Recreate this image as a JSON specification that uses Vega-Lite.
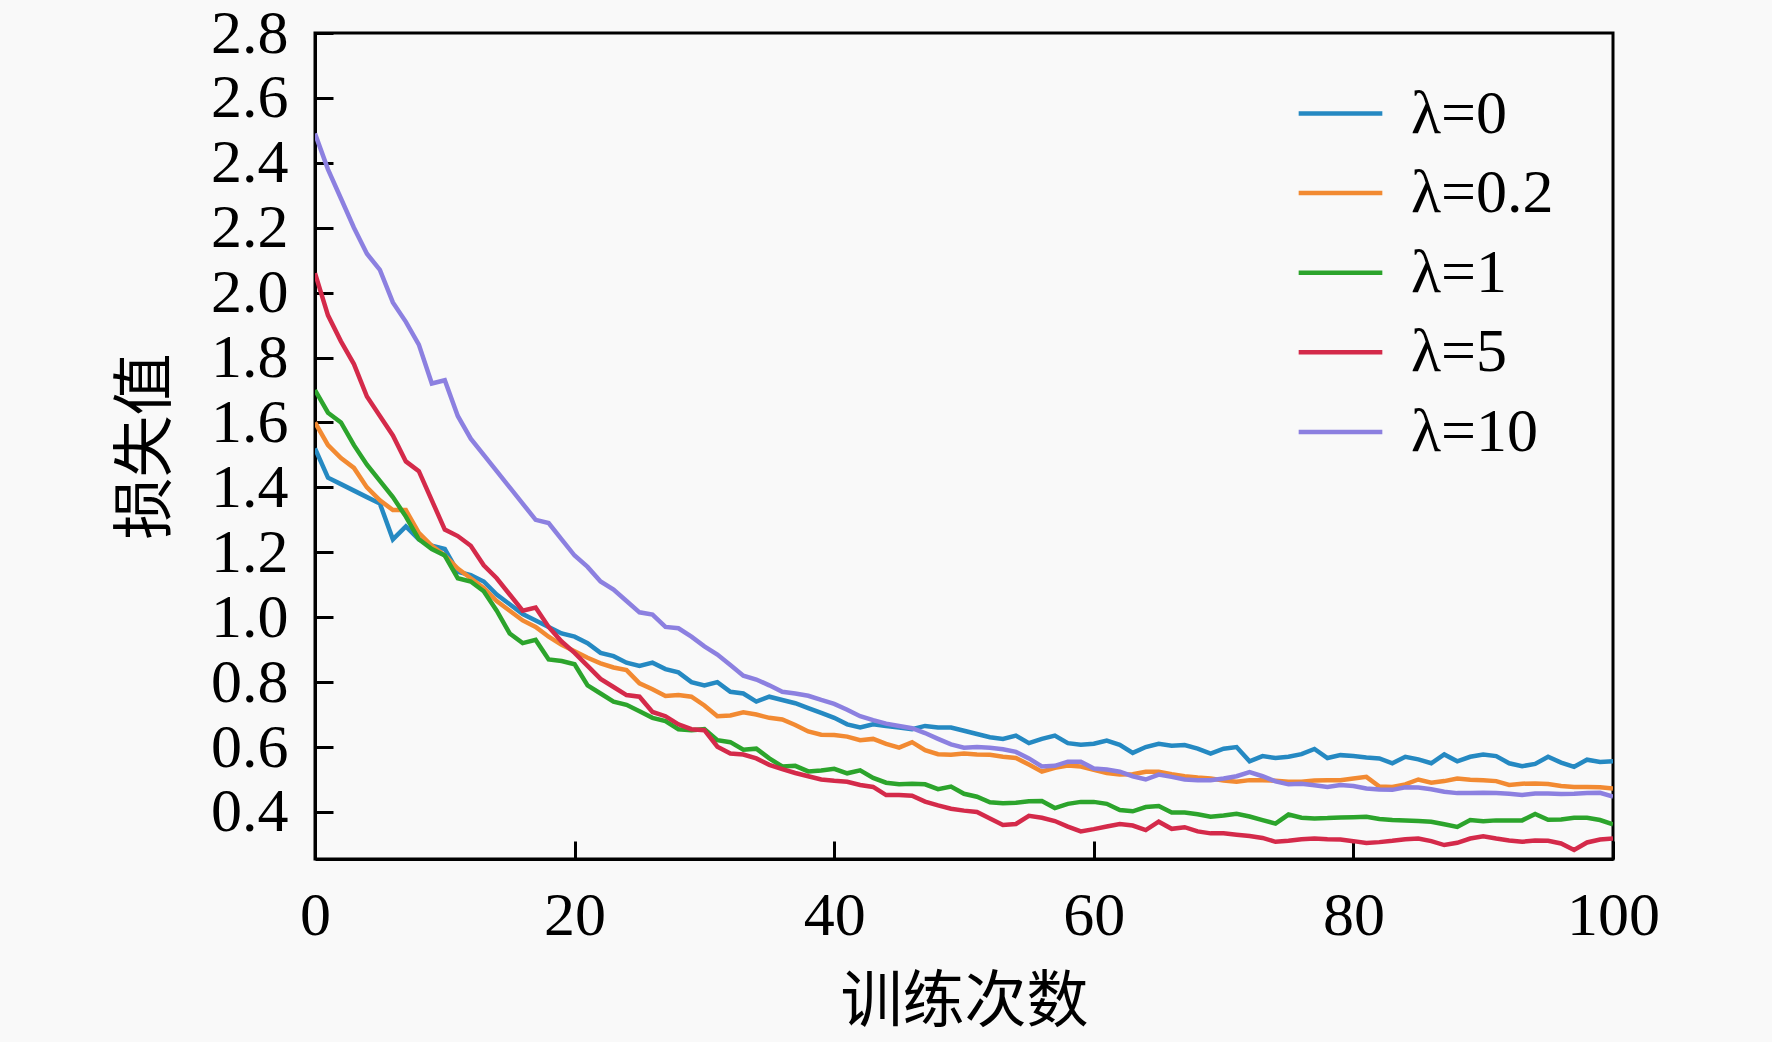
{
  "$schema": "https://vega.github.io/schema/vega-lite/v6.json",
  "width": 1298,
  "height": 826,
  "autosize": {"type": "none"},
  "padding": {"left": 315, "top": 33, "right": 159, "bottom": 183},
  "background": "#f9f9f9",
  "data": {"values": [
    {"epoch":0,"lambda":"λ=0","loss":1.52},{"epoch":1,"lambda":"λ=0","loss":1.43},{"epoch":2,"lambda":"λ=0","loss":1.41},{"epoch":3,"lambda":"λ=0","loss":1.39},{"epoch":4,"lambda":"λ=0","loss":1.37},
    {"epoch":5,"lambda":"λ=0","loss":1.35},{"epoch":6,"lambda":"λ=0","loss":1.24},{"epoch":7,"lambda":"λ=0","loss":1.28},{"epoch":8,"lambda":"λ=0","loss":1.24},{"epoch":9,"lambda":"λ=0","loss":1.22},
    {"epoch":10,"lambda":"λ=0","loss":1.21},{"epoch":11,"lambda":"λ=0","loss":1.14},{"epoch":12,"lambda":"λ=0","loss":1.13},{"epoch":13,"lambda":"λ=0","loss":1.11},{"epoch":14,"lambda":"λ=0","loss":1.07},
    {"epoch":15,"lambda":"λ=0","loss":1.04},{"epoch":16,"lambda":"λ=0","loss":1.01},{"epoch":17,"lambda":"λ=0","loss":0.99},{"epoch":18,"lambda":"λ=0","loss":0.97},{"epoch":19,"lambda":"λ=0","loss":0.95},
    {"epoch":20,"lambda":"λ=0","loss":0.94},{"epoch":21,"lambda":"λ=0","loss":0.92},{"epoch":22,"lambda":"λ=0","loss":0.89},{"epoch":23,"lambda":"λ=0","loss":0.88},{"epoch":24,"lambda":"λ=0","loss":0.86},
    {"epoch":25,"lambda":"λ=0","loss":0.85},{"epoch":26,"lambda":"λ=0","loss":0.86},{"epoch":27,"lambda":"λ=0","loss":0.84},{"epoch":28,"lambda":"λ=0","loss":0.83},{"epoch":29,"lambda":"λ=0","loss":0.80},
    {"epoch":30,"lambda":"λ=0","loss":0.79},{"epoch":31,"lambda":"λ=0","loss":0.80},{"epoch":32,"lambda":"λ=0","loss":0.77},{"epoch":33,"lambda":"λ=0","loss":0.765},{"epoch":34,"lambda":"λ=0","loss":0.74},
    {"epoch":35,"lambda":"λ=0","loss":0.755},{"epoch":36,"lambda":"λ=0","loss":0.745},{"epoch":37,"lambda":"λ=0","loss":0.735},{"epoch":38,"lambda":"λ=0","loss":0.72},{"epoch":39,"lambda":"λ=0","loss":0.705},
    {"epoch":40,"lambda":"λ=0","loss":0.69},{"epoch":41,"lambda":"λ=0","loss":0.67},{"epoch":42,"lambda":"λ=0","loss":0.66},{"epoch":43,"lambda":"λ=0","loss":0.67},{"epoch":44,"lambda":"λ=0","loss":0.665},
    {"epoch":45,"lambda":"λ=0","loss":0.66},{"epoch":46,"lambda":"λ=0","loss":0.655},{"epoch":47,"lambda":"λ=0","loss":0.665},{"epoch":48,"lambda":"λ=0","loss":0.66},{"epoch":49,"lambda":"λ=0","loss":0.66},
    {"epoch":50,"lambda":"λ=0","loss":0.65},{"epoch":51,"lambda":"λ=0","loss":0.64},{"epoch":52,"lambda":"λ=0","loss":0.63},{"epoch":53,"lambda":"λ=0","loss":0.625},{"epoch":54,"lambda":"λ=0","loss":0.635},
    {"epoch":55,"lambda":"λ=0","loss":0.612},{"epoch":56,"lambda":"λ=0","loss":0.625},{"epoch":57,"lambda":"λ=0","loss":0.635},{"epoch":58,"lambda":"λ=0","loss":0.612},{"epoch":59,"lambda":"λ=0","loss":0.607},
    {"epoch":60,"lambda":"λ=0","loss":0.61},{"epoch":61,"lambda":"λ=0","loss":0.62},{"epoch":62,"lambda":"λ=0","loss":0.607},{"epoch":63,"lambda":"λ=0","loss":0.582},{"epoch":64,"lambda":"λ=0","loss":0.60},
    {"epoch":65,"lambda":"λ=0","loss":0.61},{"epoch":66,"lambda":"λ=0","loss":0.604},{"epoch":67,"lambda":"λ=0","loss":0.606},{"epoch":68,"lambda":"λ=0","loss":0.595},{"epoch":69,"lambda":"λ=0","loss":0.58},
    {"epoch":70,"lambda":"λ=0","loss":0.595},{"epoch":71,"lambda":"λ=0","loss":0.60},{"epoch":72,"lambda":"λ=0","loss":0.556},{"epoch":73,"lambda":"λ=0","loss":0.572},{"epoch":74,"lambda":"λ=0","loss":0.566},
    {"epoch":75,"lambda":"λ=0","loss":0.57},{"epoch":76,"lambda":"λ=0","loss":0.578},{"epoch":77,"lambda":"λ=0","loss":0.594},{"epoch":78,"lambda":"λ=0","loss":0.566},{"epoch":79,"lambda":"λ=0","loss":0.575},
    {"epoch":80,"lambda":"λ=0","loss":0.572},{"epoch":81,"lambda":"λ=0","loss":0.568},{"epoch":82,"lambda":"λ=0","loss":0.565},{"epoch":83,"lambda":"λ=0","loss":0.55},{"epoch":84,"lambda":"λ=0","loss":0.57},
    {"epoch":85,"lambda":"λ=0","loss":0.562},{"epoch":86,"lambda":"λ=0","loss":0.55},{"epoch":87,"lambda":"λ=0","loss":0.577},{"epoch":88,"lambda":"λ=0","loss":0.556},{"epoch":89,"lambda":"λ=0","loss":0.57},
    {"epoch":90,"lambda":"λ=0","loss":0.577},{"epoch":91,"lambda":"λ=0","loss":0.572},{"epoch":92,"lambda":"λ=0","loss":0.55},{"epoch":93,"lambda":"λ=0","loss":0.541},{"epoch":94,"lambda":"λ=0","loss":0.548},
    {"epoch":95,"lambda":"λ=0","loss":0.57},{"epoch":96,"lambda":"λ=0","loss":0.552},{"epoch":97,"lambda":"λ=0","loss":0.539},{"epoch":98,"lambda":"λ=0","loss":0.561},{"epoch":99,"lambda":"λ=0","loss":0.554},
    {"epoch":100,"lambda":"λ=0","loss":0.556},

    {"epoch":0,"lambda":"λ=0.2","loss":1.60},{"epoch":1,"lambda":"λ=0.2","loss":1.53},{"epoch":2,"lambda":"λ=0.2","loss":1.49},{"epoch":3,"lambda":"λ=0.2","loss":1.46},{"epoch":4,"lambda":"λ=0.2","loss":1.40},
    {"epoch":5,"lambda":"λ=0.2","loss":1.36},{"epoch":6,"lambda":"λ=0.2","loss":1.33},{"epoch":7,"lambda":"λ=0.2","loss":1.33},{"epoch":8,"lambda":"λ=0.2","loss":1.26},{"epoch":9,"lambda":"λ=0.2","loss":1.22},
    {"epoch":10,"lambda":"λ=0.2","loss":1.19},{"epoch":11,"lambda":"λ=0.2","loss":1.15},{"epoch":12,"lambda":"λ=0.2","loss":1.12},{"epoch":13,"lambda":"λ=0.2","loss":1.09},{"epoch":14,"lambda":"λ=0.2","loss":1.05},
    {"epoch":15,"lambda":"λ=0.2","loss":1.02},{"epoch":16,"lambda":"λ=0.2","loss":0.99},{"epoch":17,"lambda":"λ=0.2","loss":0.97},{"epoch":18,"lambda":"λ=0.2","loss":0.94},{"epoch":19,"lambda":"λ=0.2","loss":0.915},
    {"epoch":20,"lambda":"λ=0.2","loss":0.895},{"epoch":21,"lambda":"λ=0.2","loss":0.875},{"epoch":22,"lambda":"λ=0.2","loss":0.858},{"epoch":23,"lambda":"λ=0.2","loss":0.845},{"epoch":24,"lambda":"λ=0.2","loss":0.837},
    {"epoch":25,"lambda":"λ=0.2","loss":0.796},{"epoch":26,"lambda":"λ=0.2","loss":0.778},{"epoch":27,"lambda":"λ=0.2","loss":0.757},{"epoch":28,"lambda":"λ=0.2","loss":0.76},{"epoch":29,"lambda":"λ=0.2","loss":0.755},
    {"epoch":30,"lambda":"λ=0.2","loss":0.728},{"epoch":31,"lambda":"λ=0.2","loss":0.695},{"epoch":32,"lambda":"λ=0.2","loss":0.697},{"epoch":33,"lambda":"λ=0.2","loss":0.707},{"epoch":34,"lambda":"λ=0.2","loss":0.70},
    {"epoch":35,"lambda":"λ=0.2","loss":0.69},{"epoch":36,"lambda":"λ=0.2","loss":0.685},{"epoch":37,"lambda":"λ=0.2","loss":0.668},{"epoch":38,"lambda":"λ=0.2","loss":0.648},{"epoch":39,"lambda":"λ=0.2","loss":0.638},
    {"epoch":40,"lambda":"λ=0.2","loss":0.637},{"epoch":41,"lambda":"λ=0.2","loss":0.632},{"epoch":42,"lambda":"λ=0.2","loss":0.621},{"epoch":43,"lambda":"λ=0.2","loss":0.625},{"epoch":44,"lambda":"λ=0.2","loss":0.61},
    {"epoch":45,"lambda":"λ=0.2","loss":0.598},{"epoch":46,"lambda":"λ=0.2","loss":0.615},{"epoch":47,"lambda":"λ=0.2","loss":0.59},{"epoch":48,"lambda":"λ=0.2","loss":0.578},{"epoch":49,"lambda":"λ=0.2","loss":0.576},
    {"epoch":50,"lambda":"λ=0.2","loss":0.58},{"epoch":51,"lambda":"λ=0.2","loss":0.577},{"epoch":52,"lambda":"λ=0.2","loss":0.576},{"epoch":53,"lambda":"λ=0.2","loss":0.57},{"epoch":54,"lambda":"λ=0.2","loss":0.566},
    {"epoch":55,"lambda":"λ=0.2","loss":0.546},{"epoch":56,"lambda":"λ=0.2","loss":0.524},{"epoch":57,"lambda":"λ=0.2","loss":0.536},{"epoch":58,"lambda":"λ=0.2","loss":0.543},{"epoch":59,"lambda":"λ=0.2","loss":0.54},
    {"epoch":60,"lambda":"λ=0.2","loss":0.53},{"epoch":61,"lambda":"λ=0.2","loss":0.52},{"epoch":62,"lambda":"λ=0.2","loss":0.515},{"epoch":63,"lambda":"λ=0.2","loss":0.516},{"epoch":64,"lambda":"λ=0.2","loss":0.524},
    {"epoch":65,"lambda":"λ=0.2","loss":0.524},{"epoch":66,"lambda":"λ=0.2","loss":0.516},{"epoch":67,"lambda":"λ=0.2","loss":0.51},{"epoch":68,"lambda":"λ=0.2","loss":0.506},{"epoch":69,"lambda":"λ=0.2","loss":0.503},
    {"epoch":70,"lambda":"λ=0.2","loss":0.497},{"epoch":71,"lambda":"λ=0.2","loss":0.493},{"epoch":72,"lambda":"λ=0.2","loss":0.498},{"epoch":73,"lambda":"λ=0.2","loss":0.498},{"epoch":74,"lambda":"λ=0.2","loss":0.496},
    {"epoch":75,"lambda":"λ=0.2","loss":0.493},{"epoch":76,"lambda":"λ=0.2","loss":0.493},{"epoch":77,"lambda":"λ=0.2","loss":0.497},{"epoch":78,"lambda":"λ=0.2","loss":0.498},{"epoch":79,"lambda":"λ=0.2","loss":0.498},
    {"epoch":80,"lambda":"λ=0.2","loss":0.503},{"epoch":81,"lambda":"λ=0.2","loss":0.508},{"epoch":82,"lambda":"λ=0.2","loss":0.478},{"epoch":83,"lambda":"λ=0.2","loss":0.477},{"epoch":84,"lambda":"λ=0.2","loss":0.485},
    {"epoch":85,"lambda":"λ=0.2","loss":0.50},{"epoch":86,"lambda":"λ=0.2","loss":0.49},{"epoch":87,"lambda":"λ=0.2","loss":0.495},{"epoch":88,"lambda":"λ=0.2","loss":0.503},{"epoch":89,"lambda":"λ=0.2","loss":0.499},
    {"epoch":90,"lambda":"λ=0.2","loss":0.498},{"epoch":91,"lambda":"λ=0.2","loss":0.495},{"epoch":92,"lambda":"λ=0.2","loss":0.483},{"epoch":93,"lambda":"λ=0.2","loss":0.487},{"epoch":94,"lambda":"λ=0.2","loss":0.488},
    {"epoch":95,"lambda":"λ=0.2","loss":0.486},{"epoch":96,"lambda":"λ=0.2","loss":0.48},{"epoch":97,"lambda":"λ=0.2","loss":0.477},{"epoch":98,"lambda":"λ=0.2","loss":0.477},{"epoch":99,"lambda":"λ=0.2","loss":0.476},
    {"epoch":100,"lambda":"λ=0.2","loss":0.472},

    {"epoch":0,"lambda":"λ=1","loss":1.70},{"epoch":1,"lambda":"λ=1","loss":1.63},{"epoch":2,"lambda":"λ=1","loss":1.60},{"epoch":3,"lambda":"λ=1","loss":1.53},{"epoch":4,"lambda":"λ=1","loss":1.47},
    {"epoch":5,"lambda":"λ=1","loss":1.42},{"epoch":6,"lambda":"λ=1","loss":1.37},{"epoch":7,"lambda":"λ=1","loss":1.31},{"epoch":8,"lambda":"λ=1","loss":1.24},{"epoch":9,"lambda":"λ=1","loss":1.21},
    {"epoch":10,"lambda":"λ=1","loss":1.19},{"epoch":11,"lambda":"λ=1","loss":1.12},{"epoch":12,"lambda":"λ=1","loss":1.11},{"epoch":13,"lambda":"λ=1","loss":1.08},{"epoch":14,"lambda":"λ=1","loss":1.02},
    {"epoch":15,"lambda":"λ=1","loss":0.95},{"epoch":16,"lambda":"λ=1","loss":0.92},{"epoch":17,"lambda":"λ=1","loss":0.93},{"epoch":18,"lambda":"λ=1","loss":0.87},{"epoch":19,"lambda":"λ=1","loss":0.865},
    {"epoch":20,"lambda":"λ=1","loss":0.855},{"epoch":21,"lambda":"λ=1","loss":0.79},{"epoch":22,"lambda":"λ=1","loss":0.765},{"epoch":23,"lambda":"λ=1","loss":0.74},{"epoch":24,"lambda":"λ=1","loss":0.73},
    {"epoch":25,"lambda":"λ=1","loss":0.71},{"epoch":26,"lambda":"λ=1","loss":0.69},{"epoch":27,"lambda":"λ=1","loss":0.68},{"epoch":28,"lambda":"λ=1","loss":0.655},{"epoch":29,"lambda":"λ=1","loss":0.652},
    {"epoch":30,"lambda":"λ=1","loss":0.655},{"epoch":31,"lambda":"λ=1","loss":0.621},{"epoch":32,"lambda":"λ=1","loss":0.615},{"epoch":33,"lambda":"λ=1","loss":0.592},{"epoch":34,"lambda":"λ=1","loss":0.595},
    {"epoch":35,"lambda":"λ=1","loss":0.565},{"epoch":36,"lambda":"λ=1","loss":0.54},{"epoch":37,"lambda":"λ=1","loss":0.542},{"epoch":38,"lambda":"λ=1","loss":0.525},{"epoch":39,"lambda":"λ=1","loss":0.528},
    {"epoch":40,"lambda":"λ=1","loss":0.533},{"epoch":41,"lambda":"λ=1","loss":0.519},{"epoch":42,"lambda":"λ=1","loss":0.528},{"epoch":43,"lambda":"λ=1","loss":0.505},{"epoch":44,"lambda":"λ=1","loss":0.49},
    {"epoch":45,"lambda":"λ=1","loss":0.485},{"epoch":46,"lambda":"λ=1","loss":0.487},{"epoch":47,"lambda":"λ=1","loss":0.485},{"epoch":48,"lambda":"λ=1","loss":0.47},{"epoch":49,"lambda":"λ=1","loss":0.478},
    {"epoch":50,"lambda":"λ=1","loss":0.456},{"epoch":51,"lambda":"λ=1","loss":0.447},{"epoch":52,"lambda":"λ=1","loss":0.43},{"epoch":53,"lambda":"λ=1","loss":0.427},{"epoch":54,"lambda":"λ=1","loss":0.428},
    {"epoch":55,"lambda":"λ=1","loss":0.433},{"epoch":56,"lambda":"λ=1","loss":0.434},{"epoch":57,"lambda":"λ=1","loss":0.412},{"epoch":58,"lambda":"λ=1","loss":0.425},{"epoch":59,"lambda":"λ=1","loss":0.431},
    {"epoch":60,"lambda":"λ=1","loss":0.431},{"epoch":61,"lambda":"λ=1","loss":0.425},{"epoch":62,"lambda":"λ=1","loss":0.406},{"epoch":63,"lambda":"λ=1","loss":0.402},{"epoch":64,"lambda":"λ=1","loss":0.415},
    {"epoch":65,"lambda":"λ=1","loss":0.418},{"epoch":66,"lambda":"λ=1","loss":0.398},{"epoch":67,"lambda":"λ=1","loss":0.398},{"epoch":68,"lambda":"λ=1","loss":0.393},{"epoch":69,"lambda":"λ=1","loss":0.385},
    {"epoch":70,"lambda":"λ=1","loss":0.389},{"epoch":71,"lambda":"λ=1","loss":0.394},{"epoch":72,"lambda":"λ=1","loss":0.386},{"epoch":73,"lambda":"λ=1","loss":0.375},{"epoch":74,"lambda":"λ=1","loss":0.364},
    {"epoch":75,"lambda":"λ=1","loss":0.392},{"epoch":76,"lambda":"λ=1","loss":0.382},{"epoch":77,"lambda":"λ=1","loss":0.38},{"epoch":78,"lambda":"λ=1","loss":0.381},{"epoch":79,"lambda":"λ=1","loss":0.383},
    {"epoch":80,"lambda":"λ=1","loss":0.384},{"epoch":81,"lambda":"λ=1","loss":0.385},{"epoch":82,"lambda":"λ=1","loss":0.378},{"epoch":83,"lambda":"λ=1","loss":0.375},{"epoch":84,"lambda":"λ=1","loss":0.374},
    {"epoch":85,"lambda":"λ=1","loss":0.372},{"epoch":86,"lambda":"λ=1","loss":0.37},{"epoch":87,"lambda":"λ=1","loss":0.362},{"epoch":88,"lambda":"λ=1","loss":0.354},{"epoch":89,"lambda":"λ=1","loss":0.375},
    {"epoch":90,"lambda":"λ=1","loss":0.371},{"epoch":91,"lambda":"λ=1","loss":0.374},{"epoch":92,"lambda":"λ=1","loss":0.374},{"epoch":93,"lambda":"λ=1","loss":0.374},{"epoch":94,"lambda":"λ=1","loss":0.394},
    {"epoch":95,"lambda":"λ=1","loss":0.376},{"epoch":96,"lambda":"λ=1","loss":0.377},{"epoch":97,"lambda":"λ=1","loss":0.382},{"epoch":98,"lambda":"λ=1","loss":0.382},{"epoch":99,"lambda":"λ=1","loss":0.375},
    {"epoch":100,"lambda":"λ=1","loss":0.362},

    {"epoch":0,"lambda":"λ=5","loss":2.06},{"epoch":1,"lambda":"λ=5","loss":1.93},{"epoch":2,"lambda":"λ=5","loss":1.85},{"epoch":3,"lambda":"λ=5","loss":1.78},{"epoch":4,"lambda":"λ=5","loss":1.68},
    {"epoch":5,"lambda":"λ=5","loss":1.62},{"epoch":6,"lambda":"λ=5","loss":1.56},{"epoch":7,"lambda":"λ=5","loss":1.48},{"epoch":8,"lambda":"λ=5","loss":1.45},{"epoch":9,"lambda":"λ=5","loss":1.36},
    {"epoch":10,"lambda":"λ=5","loss":1.27},{"epoch":11,"lambda":"λ=5","loss":1.25},{"epoch":12,"lambda":"λ=5","loss":1.22},{"epoch":13,"lambda":"λ=5","loss":1.16},{"epoch":14,"lambda":"λ=5","loss":1.12},
    {"epoch":15,"lambda":"λ=5","loss":1.07},{"epoch":16,"lambda":"λ=5","loss":1.02},{"epoch":17,"lambda":"λ=5","loss":1.03},{"epoch":18,"lambda":"λ=5","loss":0.97},{"epoch":19,"lambda":"λ=5","loss":0.925},
    {"epoch":20,"lambda":"λ=5","loss":0.89},{"epoch":21,"lambda":"λ=5","loss":0.85},{"epoch":22,"lambda":"λ=5","loss":0.81},{"epoch":23,"lambda":"λ=5","loss":0.785},{"epoch":24,"lambda":"λ=5","loss":0.76},
    {"epoch":25,"lambda":"λ=5","loss":0.755},{"epoch":26,"lambda":"λ=5","loss":0.708},{"epoch":27,"lambda":"λ=5","loss":0.695},{"epoch":28,"lambda":"λ=5","loss":0.67},{"epoch":29,"lambda":"λ=5","loss":0.655},
    {"epoch":30,"lambda":"λ=5","loss":0.652},{"epoch":31,"lambda":"λ=5","loss":0.601},{"epoch":32,"lambda":"λ=5","loss":0.58},{"epoch":33,"lambda":"λ=5","loss":0.577},{"epoch":34,"lambda":"λ=5","loss":0.565},
    {"epoch":35,"lambda":"λ=5","loss":0.545},{"epoch":36,"lambda":"λ=5","loss":0.532},{"epoch":37,"lambda":"λ=5","loss":0.52},{"epoch":38,"lambda":"λ=5","loss":0.51},{"epoch":39,"lambda":"λ=5","loss":0.50},
    {"epoch":40,"lambda":"λ=5","loss":0.496},{"epoch":41,"lambda":"λ=5","loss":0.493},{"epoch":42,"lambda":"λ=5","loss":0.483},{"epoch":43,"lambda":"λ=5","loss":0.477},{"epoch":44,"lambda":"λ=5","loss":0.452},
    {"epoch":45,"lambda":"λ=5","loss":0.452},{"epoch":46,"lambda":"λ=5","loss":0.45},{"epoch":47,"lambda":"λ=5","loss":0.432},{"epoch":48,"lambda":"λ=5","loss":0.42},{"epoch":49,"lambda":"λ=5","loss":0.41},
    {"epoch":50,"lambda":"λ=5","loss":0.404},{"epoch":51,"lambda":"λ=5","loss":0.40},{"epoch":52,"lambda":"λ=5","loss":0.38},{"epoch":53,"lambda":"λ=5","loss":0.36},{"epoch":54,"lambda":"λ=5","loss":0.363},
    {"epoch":55,"lambda":"λ=5","loss":0.388},{"epoch":56,"lambda":"λ=5","loss":0.382},{"epoch":57,"lambda":"λ=5","loss":0.372},{"epoch":58,"lambda":"λ=5","loss":0.355},{"epoch":59,"lambda":"λ=5","loss":0.34},
    {"epoch":60,"lambda":"λ=5","loss":0.347},{"epoch":61,"lambda":"λ=5","loss":0.355},{"epoch":62,"lambda":"λ=5","loss":0.363},{"epoch":63,"lambda":"λ=5","loss":0.358},{"epoch":64,"lambda":"λ=5","loss":0.344},
    {"epoch":65,"lambda":"λ=5","loss":0.37},{"epoch":66,"lambda":"λ=5","loss":0.348},{"epoch":67,"lambda":"λ=5","loss":0.353},{"epoch":68,"lambda":"λ=5","loss":0.34},{"epoch":69,"lambda":"λ=5","loss":0.334},
    {"epoch":70,"lambda":"λ=5","loss":0.334},{"epoch":71,"lambda":"λ=5","loss":0.33},{"epoch":72,"lambda":"λ=5","loss":0.326},{"epoch":73,"lambda":"λ=5","loss":0.32},{"epoch":74,"lambda":"λ=5","loss":0.308},
    {"epoch":75,"lambda":"λ=5","loss":0.311},{"epoch":76,"lambda":"λ=5","loss":0.316},{"epoch":77,"lambda":"λ=5","loss":0.318},{"epoch":78,"lambda":"λ=5","loss":0.316},{"epoch":79,"lambda":"λ=5","loss":0.315},
    {"epoch":80,"lambda":"λ=5","loss":0.31},{"epoch":81,"lambda":"λ=5","loss":0.304},{"epoch":82,"lambda":"λ=5","loss":0.307},{"epoch":83,"lambda":"λ=5","loss":0.311},{"epoch":84,"lambda":"λ=5","loss":0.316},
    {"epoch":85,"lambda":"λ=5","loss":0.318},{"epoch":86,"lambda":"λ=5","loss":0.31},{"epoch":87,"lambda":"λ=5","loss":0.298},{"epoch":88,"lambda":"λ=5","loss":0.305},{"epoch":89,"lambda":"λ=5","loss":0.318},
    {"epoch":90,"lambda":"λ=5","loss":0.325},{"epoch":91,"lambda":"λ=5","loss":0.318},{"epoch":92,"lambda":"λ=5","loss":0.312},{"epoch":93,"lambda":"λ=5","loss":0.308},{"epoch":94,"lambda":"λ=5","loss":0.312},
    {"epoch":95,"lambda":"λ=5","loss":0.311},{"epoch":96,"lambda":"λ=5","loss":0.303},{"epoch":97,"lambda":"λ=5","loss":0.283},{"epoch":98,"lambda":"λ=5","loss":0.306},{"epoch":99,"lambda":"λ=5","loss":0.315},
    {"epoch":100,"lambda":"λ=5","loss":0.318},

    {"epoch":0,"lambda":"λ=10","loss":2.49},{"epoch":1,"lambda":"λ=10","loss":2.38},{"epoch":2,"lambda":"λ=10","loss":2.29},{"epoch":3,"lambda":"λ=10","loss":2.20},{"epoch":4,"lambda":"λ=10","loss":2.12},
    {"epoch":5,"lambda":"λ=10","loss":2.07},{"epoch":6,"lambda":"λ=10","loss":1.97},{"epoch":7,"lambda":"λ=10","loss":1.91},{"epoch":8,"lambda":"λ=10","loss":1.84},{"epoch":9,"lambda":"λ=10","loss":1.72},
    {"epoch":10,"lambda":"λ=10","loss":1.73},{"epoch":11,"lambda":"λ=10","loss":1.62},{"epoch":12,"lambda":"λ=10","loss":1.55},{"epoch":13,"lambda":"λ=10","loss":1.50},{"epoch":14,"lambda":"λ=10","loss":1.45},
    {"epoch":15,"lambda":"λ=10","loss":1.40},{"epoch":16,"lambda":"λ=10","loss":1.35},{"epoch":17,"lambda":"λ=10","loss":1.30},{"epoch":18,"lambda":"λ=10","loss":1.29},{"epoch":19,"lambda":"λ=10","loss":1.24},
    {"epoch":20,"lambda":"λ=10","loss":1.19},{"epoch":21,"lambda":"λ=10","loss":1.155},{"epoch":22,"lambda":"λ=10","loss":1.11},{"epoch":23,"lambda":"λ=10","loss":1.085},{"epoch":24,"lambda":"λ=10","loss":1.05},
    {"epoch":25,"lambda":"λ=10","loss":1.015},{"epoch":26,"lambda":"λ=10","loss":1.008},{"epoch":27,"lambda":"λ=10","loss":0.97},{"epoch":28,"lambda":"λ=10","loss":0.966},{"epoch":29,"lambda":"λ=10","loss":0.94},
    {"epoch":30,"lambda":"λ=10","loss":0.91},{"epoch":31,"lambda":"λ=10","loss":0.885},{"epoch":32,"lambda":"λ=10","loss":0.853},{"epoch":33,"lambda":"λ=10","loss":0.82},{"epoch":34,"lambda":"λ=10","loss":0.808},
    {"epoch":35,"lambda":"λ=10","loss":0.79},{"epoch":36,"lambda":"λ=10","loss":0.77},{"epoch":37,"lambda":"λ=10","loss":0.765},{"epoch":38,"lambda":"λ=10","loss":0.758},{"epoch":39,"lambda":"λ=10","loss":0.745},
    {"epoch":40,"lambda":"λ=10","loss":0.733},{"epoch":41,"lambda":"λ=10","loss":0.715},{"epoch":42,"lambda":"λ=10","loss":0.695},{"epoch":43,"lambda":"λ=10","loss":0.683},{"epoch":44,"lambda":"λ=10","loss":0.672},
    {"epoch":45,"lambda":"λ=10","loss":0.665},{"epoch":46,"lambda":"λ=10","loss":0.658},{"epoch":47,"lambda":"λ=10","loss":0.643},{"epoch":48,"lambda":"λ=10","loss":0.625},{"epoch":49,"lambda":"λ=10","loss":0.608},
    {"epoch":50,"lambda":"λ=10","loss":0.598},{"epoch":51,"lambda":"λ=10","loss":0.60},{"epoch":52,"lambda":"λ=10","loss":0.598},{"epoch":53,"lambda":"λ=10","loss":0.593},{"epoch":54,"lambda":"λ=10","loss":0.585},
    {"epoch":55,"lambda":"λ=10","loss":0.565},{"epoch":56,"lambda":"λ=10","loss":0.54},{"epoch":57,"lambda":"λ=10","loss":0.542},{"epoch":58,"lambda":"λ=10","loss":0.555},{"epoch":59,"lambda":"λ=10","loss":0.555},
    {"epoch":60,"lambda":"λ=10","loss":0.534},{"epoch":61,"lambda":"λ=10","loss":0.531},{"epoch":62,"lambda":"λ=10","loss":0.524},{"epoch":63,"lambda":"λ=10","loss":0.51},{"epoch":64,"lambda":"λ=10","loss":0.50},
    {"epoch":65,"lambda":"λ=10","loss":0.515},{"epoch":66,"lambda":"λ=10","loss":0.508},{"epoch":67,"lambda":"λ=10","loss":0.50},{"epoch":68,"lambda":"λ=10","loss":0.498},{"epoch":69,"lambda":"λ=10","loss":0.498},
    {"epoch":70,"lambda":"λ=10","loss":0.503},{"epoch":71,"lambda":"λ=10","loss":0.51},{"epoch":72,"lambda":"λ=10","loss":0.523},{"epoch":73,"lambda":"λ=10","loss":0.51},{"epoch":74,"lambda":"λ=10","loss":0.494},
    {"epoch":75,"lambda":"λ=10","loss":0.485},{"epoch":76,"lambda":"λ=10","loss":0.487},{"epoch":77,"lambda":"λ=10","loss":0.482},{"epoch":78,"lambda":"λ=10","loss":0.477},{"epoch":79,"lambda":"λ=10","loss":0.483},
    {"epoch":80,"lambda":"λ=10","loss":0.48},{"epoch":81,"lambda":"λ=10","loss":0.472},{"epoch":82,"lambda":"λ=10","loss":0.469},{"epoch":83,"lambda":"λ=10","loss":0.468},{"epoch":84,"lambda":"λ=10","loss":0.476},
    {"epoch":85,"lambda":"λ=10","loss":0.475},{"epoch":86,"lambda":"λ=10","loss":0.47},{"epoch":87,"lambda":"λ=10","loss":0.462},{"epoch":88,"lambda":"λ=10","loss":0.458},{"epoch":89,"lambda":"λ=10","loss":0.458},
    {"epoch":90,"lambda":"λ=10","loss":0.459},{"epoch":91,"lambda":"λ=10","loss":0.458},{"epoch":92,"lambda":"λ=10","loss":0.456},{"epoch":93,"lambda":"λ=10","loss":0.452},{"epoch":94,"lambda":"λ=10","loss":0.457},
    {"epoch":95,"lambda":"λ=10","loss":0.457},{"epoch":96,"lambda":"λ=10","loss":0.455},{"epoch":97,"lambda":"λ=10","loss":0.456},{"epoch":98,"lambda":"λ=10","loss":0.458},{"epoch":99,"lambda":"λ=10","loss":0.459},
    {"epoch":100,"lambda":"λ=10","loss":0.447}
  ]},
  "mark": {"type": "line", "strokeWidth": 4.5, "clip": true},
  "encoding": {
    "x": {
      "field": "epoch",
      "type": "quantitative",
      "title": "训练次数",
      "scale": {"domain": [0, 100], "nice": false, "zero": false},
      "axis": {"values": [0, 20, 40, 60, 80, 100], "format": "d", "titlePadding": 26}
    },
    "y": {
      "field": "loss",
      "type": "quantitative",
      "title": "损失值",
      "scale": {"domain": [0.255, 2.8], "nice": false, "zero": false},
      "axis": {"values": [0.4, 0.6, 0.8, 1.0, 1.2, 1.4, 1.6, 1.8, 2.0, 2.2, 2.4, 2.6, 2.8], "format": ".1f", "titlePadding": 32}
    },
    "color": {
      "field": "lambda",
      "type": "nominal",
      "scale": {
        "domain": ["λ=0", "λ=0.2", "λ=1", "λ=5", "λ=10"],
        "range": ["#2589C2", "#F28A32", "#2CA42C", "#D42A4A", "#8C80E0"]
      },
      "legend": {
        "orient": "none",
        "legendX": 981,
        "legendY": 36,
        "title": null,
        "symbolType": "stroke",
        "symbolSize": 7000,
        "symbolStrokeWidth": 4.5,
        "labelFont": "Liberation Serif",
        "labelFontSize": 62,
        "labelColor": "black",
        "labelOffset": 26,
        "rowPadding": 3.6,
        "padding": 0
      }
    }
  },
  "config": {
    "view": {"stroke": "black", "strokeWidth": 3},
    "axis": {
      "grid": false,
      "domainColor": "black",
      "domainWidth": 3,
      "tickColor": "black",
      "tickWidth": 3,
      "tickSize": -18,
      "labelFont": "Liberation Serif",
      "labelFontSize": 62,
      "labelColor": "black",
      "labelFlush": false,
      "labelOverlap": false,
      "titleFont": "Liberation Serif, Noto Sans CJK SC",
      "titleFontSize": 62,
      "titleFontWeight": "normal",
      "titleColor": "black"
    },
    "axisX": {"labelPadding": 44},
    "axisY": {"labelPadding": 45}
  }
}
